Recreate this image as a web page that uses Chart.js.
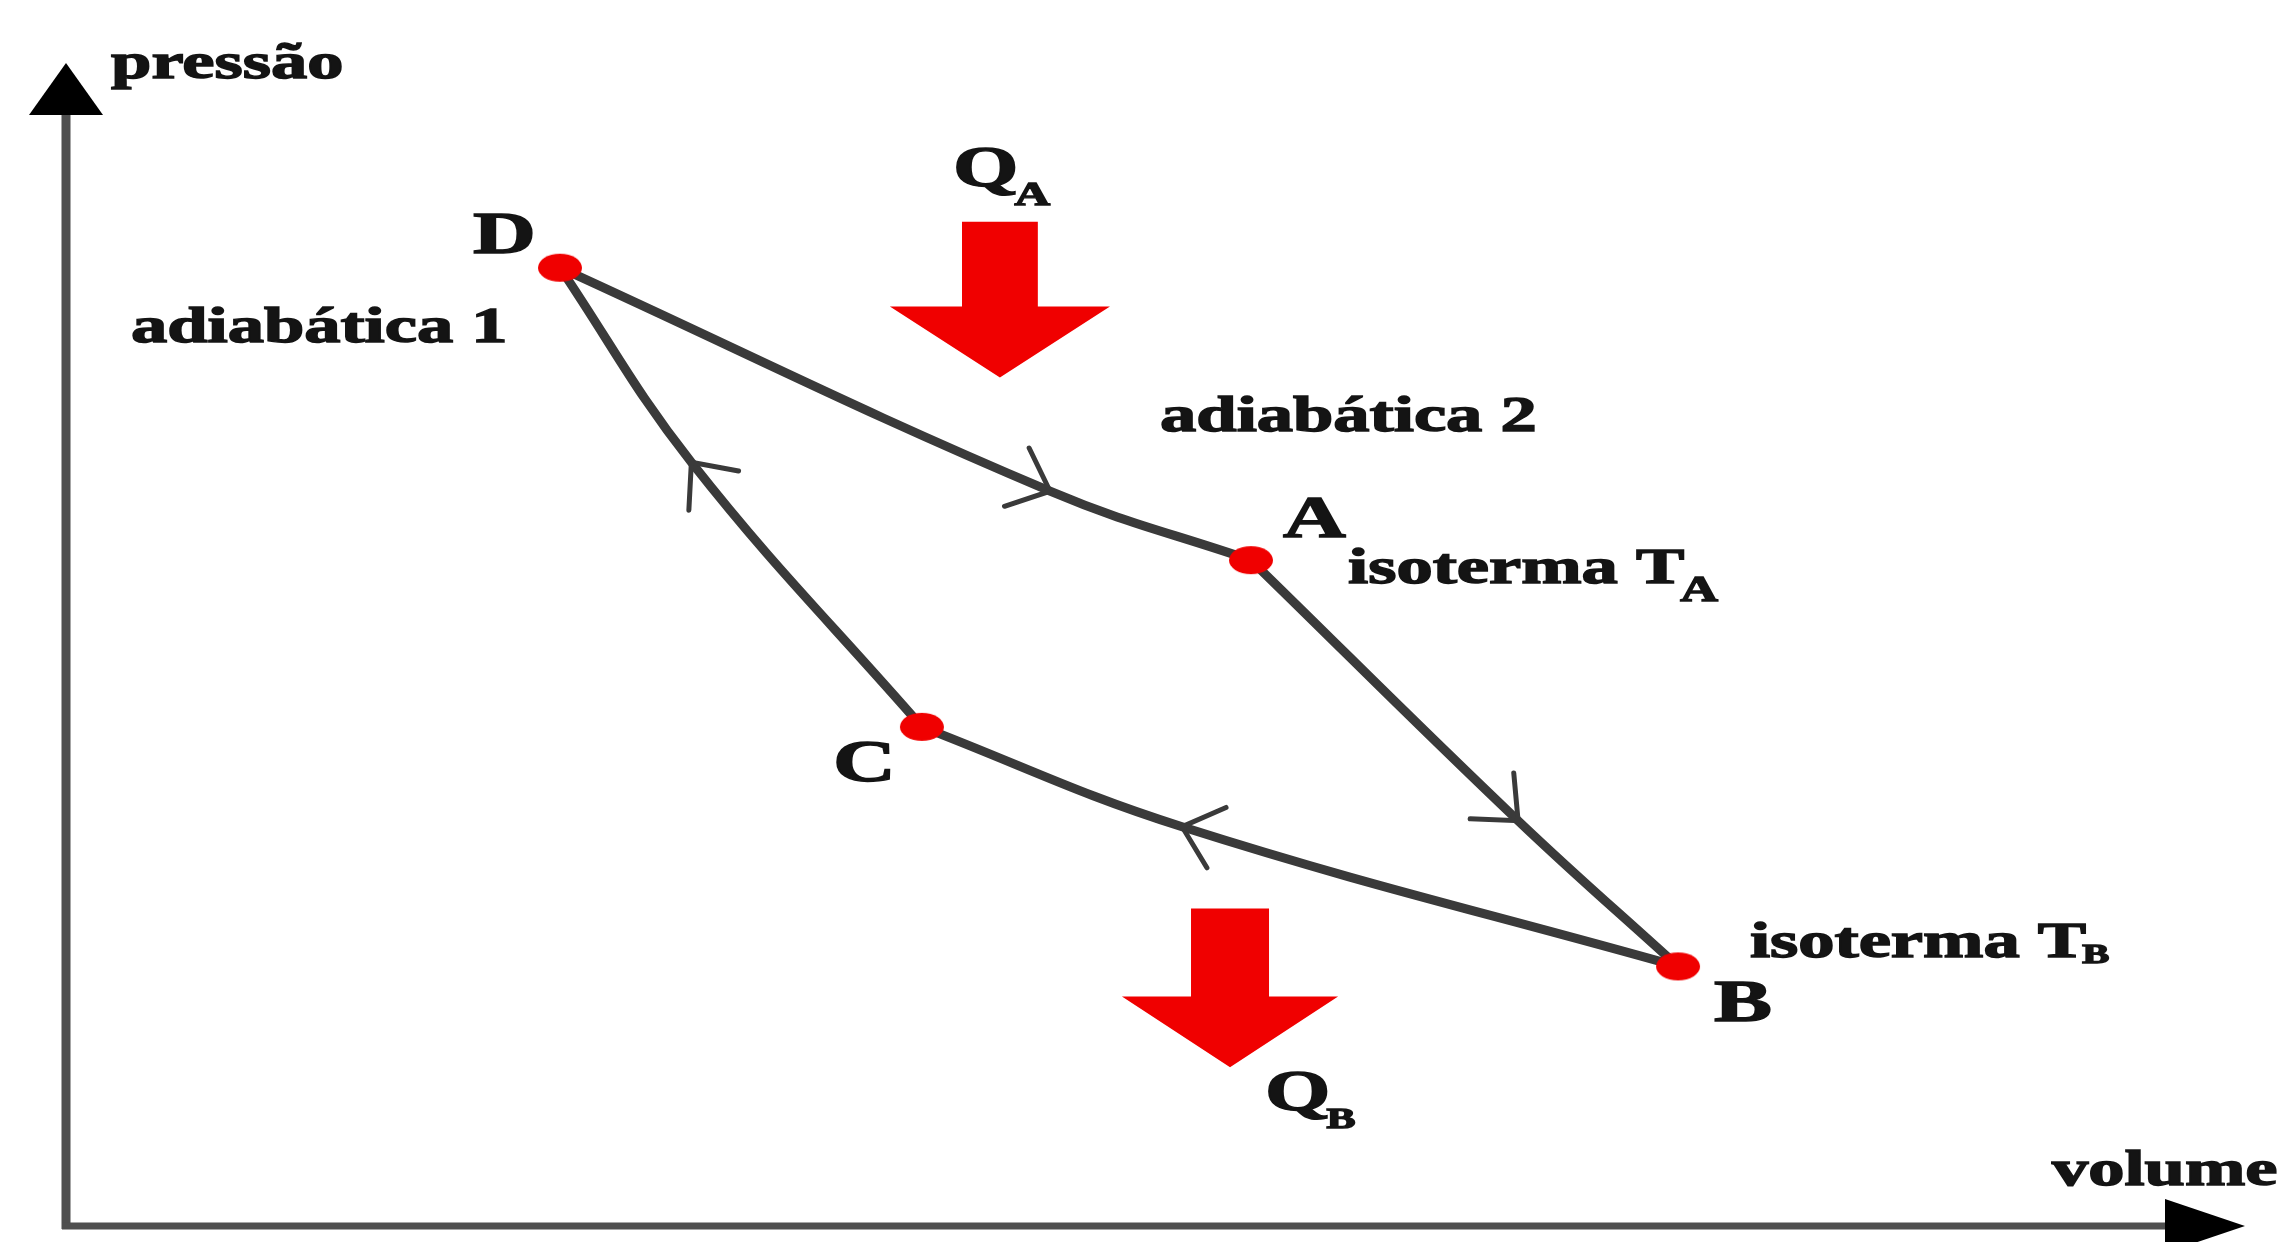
<!DOCTYPE html>
<html>
<head>
<meta charset="utf-8">
<script src="https://cdn.jsdelivr.net/npm/chart.js@4.4.1/dist/chart.umd.min.js"></script>
<style>
  html, body { margin: 0; padding: 0; background: #fff; }
  #wrap { width: 2283px; height: 1242px; position: relative; }
</style>
</head>
<body>
<div id="wrap"><canvas id="carnot"></canvas></div>
<script>
// Carnot cycle in the p-V plane, arbitrary units (0-100 on both axes)
const vertexNames = ['A', 'B', 'C', 'D'];
const vertexVolume = [54.38, 73.98, 39.28, 22.67];
const vertexPressure = [57.25, 22.32, 42.92, 82.40];

// the four legs: start, a point on the curve (where the direction mark sits), end
const legDAVolume = [22.67, 45.16, 54.38];
const legDAPressure = [82.40, 63.18, 57.25];
const legABVolume = [54.38, 66.64, 73.98];
const legABPressure = [57.25, 34.85, 22.32];
const legBCVolume = [73.98, 51.22, 39.28];
const legBCPressure = [22.32, 34.33, 42.92];
const legCDVolume = [39.28, 28.70, 22.67];
const legCDPressure = [42.92, 65.67, 82.40];

// which point of each leg carries the direction mark
const chevronIndex = 1;

const curveColor = '#3a3a3a';
const axisColor = '#4f4f4f';
const ink = '#141414';
const heatRed = '#f00000';
const TEXT_STRETCH = 1.45;

// text labels, anchored in data units (left edge, baseline)
const labelLayout = [
    { text: 'pressão', v: 2.07, p: 98.71, size: 50 },
    { text: 'volume', v: 91.14, p: 3.52, size: 50 },
    { text: 'adiabática 1', v: 2.98, p: 75.97, size: 50 },
    { text: 'adiabática 2', v: 50.21, p: 68.33, size: 50 },
    { text: 'D', v: 18.68, p: 83.69, size: 60 },
    { text: 'A', v: 55.85, p: 59.23, size: 60 },
    { text: 'B', v: 75.63, p: 17.60, size: 60 },
    { text: 'C', v: 35.20, p: 38.28, size: 60 },
    { text: 'isoterma T', sub: 'A', v: 58.84, p: 55.28, size: 50, subSize: 36, subDrop: 18 },
    { text: 'isoterma T', sub: 'B', v: 77.28, p: 23.09, size: 50, subSize: 28, subDrop: 6 },
    { text: 'Q', sub: 'A', v: 40.71, p: 89.44, size: 58, subSize: 34, subDrop: 19 },
    { text: 'Q', sub: 'B', v: 55.03, p: 9.96, size: 58, subSize: 30, subDrop: 18 }
];

// heat flow arrows, in data units
const heatArrows = [
    { v: 42.86, shaftHalf: 1.74, headHalf: 5.05, top: 86.35, neck: 79.06, tip: 72.96 },
    { v: 53.42, shaftHalf: 1.79, headHalf: 4.96, top: 27.30, neck: 19.74, tip: 13.65 }
];

function makeDot() {
    const c = document.createElement('canvas');
    c.width = 46; c.height = 30;
    const g = c.getContext('2d');
    g.fillStyle = heatRed;
    g.beginPath();
    g.ellipse(23, 15, 22, 14, 0, 0, Math.PI * 2);
    g.fill();
    return c;
}

function drawText(ctx, str, x, y, size) {
    ctx.save();
    ctx.font = `bold ${size}px "Liberation Serif", "DejaVu Serif", serif`;
    ctx.textBaseline = 'alphabetic';
    ctx.fillStyle = ink;
    ctx.strokeStyle = ink;
    ctx.lineWidth = 1.4;
    ctx.translate(x, y);
    ctx.scale(TEXT_STRETCH, 1);
    ctx.fillText(str, 0, 0);
    ctx.strokeText(str, 0, 0);
    const w = ctx.measureText(str).width * TEXT_STRETCH;
    ctx.restore();
    return w;
}

function drawChevron(ctx, pt, prev, next) {
    let dx = pt.cp2x - pt.cp1x;
    let dy = pt.cp2y - pt.cp1y;
    if (!isFinite(dx) || !isFinite(dy) || (dx === 0 && dy === 0)) {
        dx = next.x - prev.x; dy = next.y - prev.y;
    }
    const back = Math.atan2(dy, dx) + Math.PI;
    const len = 48, spread = 0.72;
    ctx.beginPath();
    ctx.moveTo(pt.x + Math.cos(back - spread) * len, pt.y + Math.sin(back - spread) * len);
    ctx.lineTo(pt.x, pt.y);
    ctx.lineTo(pt.x + Math.cos(back + spread) * len, pt.y + Math.sin(back + spread) * len);
    ctx.stroke();
}

const diagramPlugin = {
    id: 'diagram',
    beforeDatasetsDraw(chart) {
        const { ctx, chartArea: a, scales: { x, y } } = chart;
        ctx.save();
        // axes
        ctx.strokeStyle = axisColor;
        ctx.lineCap = 'butt';
        ctx.lineWidth = 9;
        ctx.beginPath();
        ctx.moveTo(a.left, a.bottom + 3);
        ctx.lineTo(a.left, a.top + 50);
        ctx.stroke();
        ctx.lineWidth = 7;
        ctx.beginPath();
        ctx.moveTo(a.left - 4, a.bottom);
        ctx.lineTo(a.right - 76, a.bottom);
        ctx.stroke();
        ctx.fillStyle = '#000';
        ctx.beginPath();
        ctx.moveTo(a.left, a.top);
        ctx.lineTo(a.left - 37, a.top + 52);
        ctx.lineTo(a.left + 37, a.top + 52);
        ctx.closePath();
        ctx.fill();
        ctx.beginPath();
        ctx.moveTo(a.right, a.bottom);
        ctx.lineTo(a.right - 80, a.bottom - 27);
        ctx.lineTo(a.right - 80, a.bottom + 27);
        ctx.closePath();
        ctx.fill();

        // heat arrows
        ctx.fillStyle = heatRed;
        heatArrows.forEach(h => {
            ctx.beginPath();
            ctx.moveTo(x.getPixelForValue(h.v - h.shaftHalf), y.getPixelForValue(h.top));
            ctx.lineTo(x.getPixelForValue(h.v + h.shaftHalf), y.getPixelForValue(h.top));
            ctx.lineTo(x.getPixelForValue(h.v + h.shaftHalf), y.getPixelForValue(h.neck));
            ctx.lineTo(x.getPixelForValue(h.v + h.headHalf), y.getPixelForValue(h.neck));
            ctx.lineTo(x.getPixelForValue(h.v), y.getPixelForValue(h.tip));
            ctx.lineTo(x.getPixelForValue(h.v - h.headHalf), y.getPixelForValue(h.neck));
            ctx.lineTo(x.getPixelForValue(h.v - h.shaftHalf), y.getPixelForValue(h.neck));
            ctx.closePath();
            ctx.fill();
        });
        ctx.restore();
    },
    afterDatasetsDraw(chart) {
        const { ctx, scales: { x, y } } = chart;
        ctx.save();
        // direction marks on the legs
        ctx.strokeStyle = curveColor;
        ctx.lineWidth = 5;
        ctx.lineCap = 'round';
        ctx.lineJoin = 'miter';
        chart.data.datasets.forEach((ds, i) => {
            if (!ds.isLeg) return;
            const pts = chart.getDatasetMeta(i).data;
            drawChevron(ctx, pts[chevronIndex], pts[chevronIndex - 1], pts[chevronIndex + 1]);
        });

        labelLayout.forEach(l => {
            const px = x.getPixelForValue(l.v);
            const py = y.getPixelForValue(l.p);
            const w = drawText(ctx, l.text, px, py, l.size);
            if (l.sub) drawText(ctx, l.sub, px + w - 4, py + l.subDrop, l.subSize);
        });
        ctx.restore();
    }
};

const legs = [
    [legDAVolume, legDAPressure],
    [legABVolume, legABPressure],
    [legBCVolume, legBCPressure],
    [legCDVolume, legCDPressure]
];

const datasets = legs.map(([vol, pres]) => ({
    data: vol.map((v, i) => ({ x: v, y: pres[i] })),
    showLine: true,
    tension: 0.4,
    borderColor: curveColor,
    borderWidth: 9,
    borderCapStyle: 'round',
    pointRadius: 0,
    pointHoverRadius: 0,
    order: 2,
    isLeg: true
}));

datasets.push({
    label: 'estados',
    data: vertexVolume.map((v, i) => ({ x: v, y: vertexPressure[i], name: vertexNames[i] })),
    showLine: false,
    pointStyle: makeDot(),
    pointRadius: 15,
    pointHoverRadius: 15,
    order: 0
});

new Chart(document.getElementById('carnot'), {
    type: 'scatter',
    data: { datasets },
    options: {
        responsive: true,
        maintainAspectRatio: false,
        animation: false,
        events: [],
        layout: { padding: { left: 66, right: 38, top: 63, bottom: 14 } },
        plugins: { legend: { display: false }, tooltip: { enabled: false } },
        scales: {
            x: { type: 'linear', min: 0, max: 100, display: false },
            y: { type: 'linear', min: 0, max: 100, display: false }
        }
    },
    plugins: [diagramPlugin]
});
</script>
</body>
</html>
